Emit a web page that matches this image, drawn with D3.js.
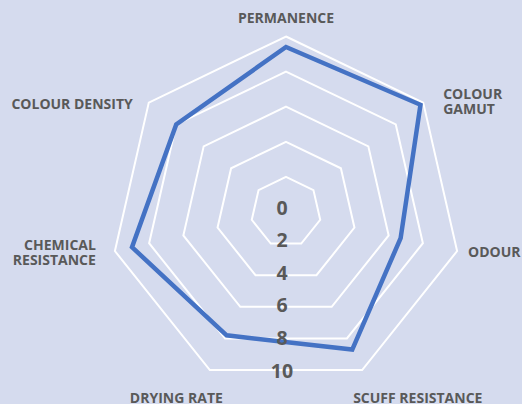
<!DOCTYPE html>
<meta charset="utf-8">
<style>
body { margin: 0; background: #d5dbee; }
.grid { fill: none; stroke: #fff; stroke-width: 2; }
.series { fill: none; stroke: #4472c4; stroke-width: 4.5; stroke-linejoin: miter; }
.axis-label { font-family: "Open Sans", sans-serif; font-weight: 700; font-size: 14px; fill: #595959; }
.tick-label { font-family: "Open Sans", sans-serif; font-weight: 700; font-size: 19.5px; fill: #595959; }
</style>
<svg id="chart" width="522" height="404"></svg>
<script src="https://d3js.org/d3.v7.min.js"></script>
<script>

var categories = ["PERMANENCE", "COLOUR\nGAMUT", "ODOUR", "SCUFF RESISTANCE", "DRYING RATE", "CHEMICAL\nRESISTANCE", "COLOUR DENSITY"];
var values = [9.4, 9.8, 6.7, 8.7, 7.8, 9.0, 8.0];
var ticks = [0, 2, 4, 6, 8, 10];

// label nudges from outer vertex: [dx, dy, anchor]
var labelNudge = [[0, -14, "middle"], [20, 4, "start"], [11, 6, "start"], [-9, 33, "start"],
                  [13, 33, "end"], [-19, 6, "end"], [-16, 6, "end"]];

var svg = d3.select("#chart"),
    width = +svg.attr("width"),
    height = +svg.attr("height");

svg.append("rect").attr("width", width).attr("height", height).attr("fill", "#d5dbee");

var cx = 286, cy = 212;
var r = d3.scaleLinear().domain([0, 10]).range([0, 175.5]);
var n = categories.length;
var angle = function(i) { return i * 2 * Math.PI / n; };

function pt(i, v) {
  return [cx + r(v) * Math.sin(angle(i)), cy - r(v) * Math.cos(angle(i))];
}

var line = d3.line();

svg.append("g").selectAll("path")
  .data(ticks.slice(1))
  .enter().append("path")
    .attr("class", "grid")
    .attr("d", function(t) { return line(d3.range(n).map(function(i) { return pt(i, t); })) + "Z"; });

svg.append("path")
    .attr("class", "series")
    .attr("d", line(values.map(function(v, i) { return pt(i, v); })) + "Z");

svg.append("g").selectAll("text")
  .data(ticks)
  .enter().append("text")
    .attr("class", "tick-label")
    .attr("text-anchor", "middle")
    .attr("dominant-baseline", "central")
    .attr("x", cx - 4)
    .attr("y", function(t) { return cy - 5 + r(t) * 0.93; })
    .text(function(t) { return t; });

// one text per line so each line is its own label
categories.forEach(function(d, i) {
  var p = pt(i, 10);
  var parts = d.split("\n");
  parts.forEach(function(s, j) {
    svg.append("text")
        .attr("class", "axis-label")
        .attr("text-anchor", labelNudge[i][2])
        .attr("x", p[0] + labelNudge[i][0])
        .attr("y", p[1] + labelNudge[i][1] - (parts.length - 1) * 7.5 + j * 15)
        .text(s);
  });
});

</script>
